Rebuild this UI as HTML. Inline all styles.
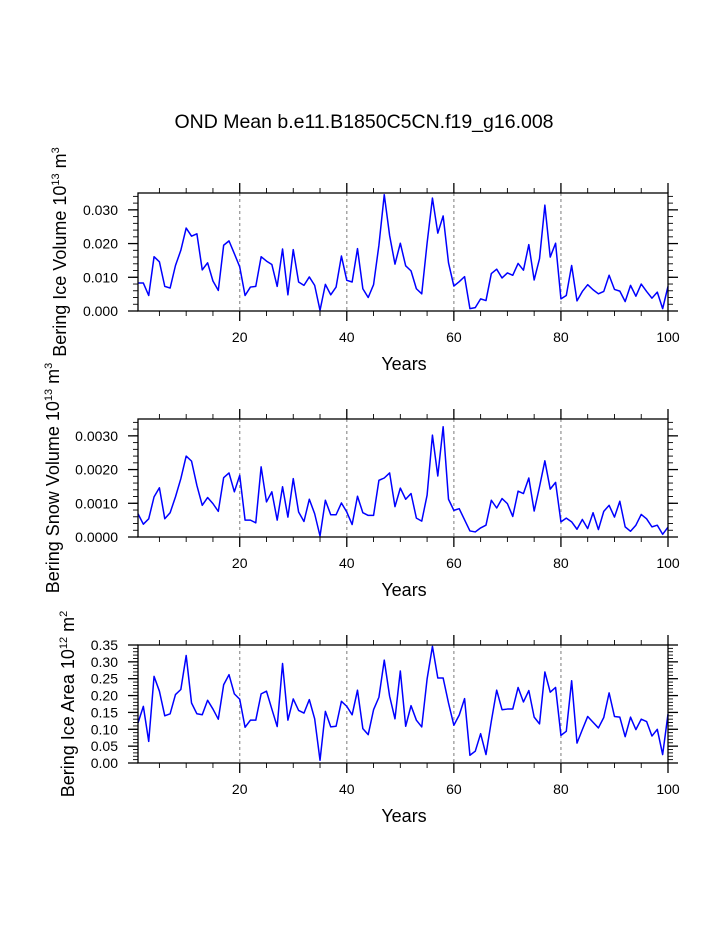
<!DOCTYPE html>
<html><head><meta charset="utf-8">
<style>
html,body{margin:0;padding:0;background:#fff;}
svg{display:block;font-family:"Liberation Sans",Arial,sans-serif;}
</style></head>
<body>
<svg id="chart" width="723" height="935" viewBox="0 0 723 935">
<text x="364" y="128" text-anchor="middle" font-size="19.5">OND Mean b.e11.B1850C5CN.f19_g16.008</text>
</svg>
<script>
const years = Array.from({length:100},(_,i)=>i+1);
const iceVolume = [8.3,8.3,4.6,16.1,14.6,7.3,6.8,13.5,18.0,24.6,22.2,22.9,12.2,14.3,8.9,6.1,19.5,20.8,17.0,13.1,4.6,7.1,7.3,16.1,14.8,13.8,7.3,18.4,4.8,18.2,8.6,7.6,10.1,7.6,0.2,7.9,4.8,7.1,16.3,9.1,8.6,18.5,6.6,4.0,7.8,19.5,34.5,22.4,13.9,20.1,13.4,11.9,6.6,5.1,20.1,33.5,23.1,28.2,14.3,7.4,8.7,10.2,0.7,1.0,3.6,3.1,11.1,12.4,9.8,11.3,10.6,14.1,12.1,19.7,9.2,15.5,31.4,16.0,20.1,3.6,4.6,13.5,3.0,5.8,7.8,6.3,5.1,5.8,10.6,6.4,5.9,2.8,7.6,4.4,8.0,5.8,3.8,5.6,0.7,7.3].map(v=>v*0.001);
const snowVolume = [6.9,3.8,5.4,11.9,14.6,5.4,7.2,11.9,17.3,24.0,22.5,15.3,9.4,11.7,9.9,7.6,17.6,19.0,13.4,18.3,5.0,5.0,4.2,20.8,10.4,13.4,5.0,14.9,5.9,17.3,7.4,4.6,11.2,6.9,0.3,10.9,6.6,6.6,10.1,7.4,3.7,12.1,7.2,6.4,6.4,16.8,17.5,19.0,9.0,14.5,11.2,12.9,5.6,4.7,12.4,30.2,18.1,32.7,11.2,7.9,8.4,5.1,1.8,1.5,2.7,3.5,10.9,8.6,11.4,9.9,6.1,13.6,12.9,17.5,7.7,14.9,22.6,14.2,16.2,4.5,5.6,4.5,2.3,5.2,2.5,7.2,2.2,7.6,9.4,5.9,10.6,3.0,1.7,3.5,6.7,5.4,3.0,3.5,0.8,2.9].map(v=>v*0.0001);
const iceArea = [11.9,16.8,6.4,25.7,21.3,14.0,14.6,20.3,21.8,31.9,17.8,14.6,14.3,18.6,16.0,13.0,23.2,26.2,20.5,18.9,10.6,12.7,12.7,20.5,21.3,16.0,10.8,29.5,12.7,19.0,15.6,14.8,18.8,13.1,0.8,15.3,10.7,10.9,18.3,16.8,14.3,21.6,10.2,8.4,15.8,19.5,30.5,19.8,13.1,27.3,10.9,17.0,12.7,10.7,24.9,34.6,25.2,25.2,17.8,11.2,14.2,19.1,2.3,3.5,8.7,2.5,12.4,21.6,15.8,16.0,16.0,22.4,18.1,21.5,13.6,11.6,27.0,21.0,22.4,8.2,9.4,24.4,5.9,9.9,13.8,12.1,10.4,13.5,20.8,13.8,13.6,7.8,13.6,9.9,13.0,12.3,8.0,10.0,2.5,14.5].map(v=>v*0.01);
const xTickLabels = [20,40,60,80,100];
const yTicks1 = [0,0.01,0.02,0.03];
const yTickLabels1 = ["0.000","0.010","0.020","0.030"];
const yTicks2 = [0,0.001,0.002,0.003];
const yTickLabels2 = ["0.0000","0.0010","0.0020","0.0030"];
const yTicks3 = [0,0.05,0.1,0.15,0.2,0.25,0.3,0.35];
const yTickLabels3 = ["0.00","0.05","0.10","0.15","0.20","0.25","0.30","0.35"];

const NS="http://www.w3.org/2000/svg";
const svg=document.getElementById('chart');
function mk(tag,attrs,parent){const e=document.createElementNS(NS,tag);for(const k in attrs)e.setAttribute(k,attrs[k]);(parent||svg).appendChild(e);return e;}

function panel(name,top,yMax,values,ticks,labels,minorStep,title,unitExp,unitPow,titleX){
  const L=138,R=668,T=top,B=top+118;
  const g=mk('g',{});
  
  
  const xs=v=>L+(v-1)*(R-L)/99;
  const ys=v=>B-v/yMax*(B-T);
  [20,40,60,80].forEach(v=>{
    const l=mk('line',{x1:xs(v),x2:xs(v),y1:T,y2:B,stroke:'#999','stroke-width':1.3,'stroke-dasharray':'3,3'},g);
    
    
  });
  for(let v=5;v<=100;v+=5){
    const maj=v%20===0, len=maj?10:5;
    mk('line',{x1:xs(v),x2:xs(v),y1:B,y2:B+len,stroke:'#000','stroke-width':maj?1.3:0.9},g);
    mk('line',{x1:xs(v),x2:xs(v),y1:T,y2:T-len,stroke:'#000','stroke-width':maj?1.3:0.9},g);
  }
  xTickLabels.forEach(v=>{
    const t=mk('text',{x:xs(v),y:B+31,'text-anchor':'middle','font-size':14},g);
    t.textContent=v;
    
    
  });
  for(let v=0;v<=yMax+1e-9;v+=minorStep){
    mk('line',{x1:L,x2:L-5,y1:ys(v),y2:ys(v),stroke:'#000','stroke-width':0.9},g);
    mk('line',{x1:R,x2:R+5,y1:ys(v),y2:ys(v),stroke:'#000','stroke-width':0.9},g);
  }
  ticks.forEach((v,i)=>{
    mk('line',{x1:L,x2:L-10,y1:ys(v),y2:ys(v),stroke:'#000','stroke-width':1.3},g);
    mk('line',{x1:R,x2:R+10,y1:ys(v),y2:ys(v),stroke:'#000','stroke-width':1.3},g);
    const t=mk('text',{x:L-20,y:ys(v)+5,'text-anchor':'end','font-size':14},g);
    t.textContent=labels[i];
    
    
  });
  const d=values.map((v,i)=>(i?'L':'M')+xs(years[i]).toFixed(2)+','+ys(v).toFixed(2)).join(' ');
  const p=mk('path',{d:d,fill:'none',stroke:'#0000ff','stroke-width':1.5,'stroke-linejoin':'round'},g);
  
  
  const f=mk('rect',{x:L,y:T,width:R-L,height:B-T,fill:'none',stroke:'#000','stroke-width':1.3},g);
  
  
  const xt=mk('text',{x:(L+R)/2+1,y:B+59,'text-anchor':'middle','font-size':18},g);
  xt.textContent='Years';
  
  
  const cy=(T+B)/2;
  const yt=mk('text',{x:0,y:0,'text-anchor':'middle','font-size':18,transform:'translate('+titleX+','+cy+') rotate(-90)'},g);
  
  
  const a=document.createElementNS(NS,'tspan');a.textContent=title+' 10';yt.appendChild(a);
  const b=document.createElementNS(NS,'tspan');b.setAttribute('dy','-7');b.setAttribute('font-size','11');b.textContent=unitExp;yt.appendChild(b);
  const c=document.createElementNS(NS,'tspan');c.setAttribute('dy','7');c.textContent=' m';yt.appendChild(c);
  const e=document.createElementNS(NS,'tspan');e.setAttribute('dy','-7');e.setAttribute('font-size','11');e.textContent=unitPow;yt.appendChild(e);
}
panel('ice-volume',193,0.035,iceVolume,yTicks1,yTickLabels1,0.002,'Bering Ice Volume','13','3',66);
panel('snow-volume',419,0.0035,snowVolume,yTicks2,yTickLabels2,0.0002,'Bering Snow Volume','13','3',59);
panel('ice-area',645,0.35,iceArea,yTicks3,yTickLabels3,0.01,'Bering Ice Area','12','2',74);
</script>
</body></html>
